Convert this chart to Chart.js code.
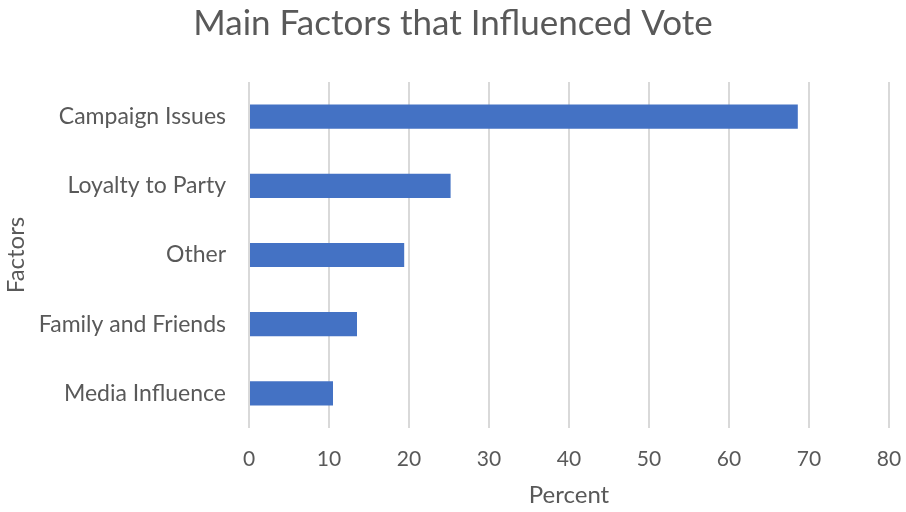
<!DOCTYPE html>
<html>
<head>
<meta charset="utf-8">
<script src="https://cdn.jsdelivr.net/npm/chart.js@4"></script>
<style>
  html, body { margin: 0; padding: 0; background: #fff; }
  #wrap { width: 906px; height: 512px; }
</style>
</head>
<body>
<div id="wrap"><canvas id="voteChart" width="906" height="512"></canvas></div>
<script>
// data
const factors = ['Campaign Issues', 'Loyalty to Party', 'Other', 'Family and Friends', 'Media Influence'];
const percents = [68.6, 25.2, 19.4, 13.5, 10.5];
const percentTicks = [0, 10, 20, 30, 40, 50, 60, 70, 80];

const textColor = '#595959';
const fontFamily = 'Lato, "Open Sans", sans-serif';

const data = {
    labels: factors,
    datasets: [{
        label: 'Percent',
        data: percents,
        backgroundColor: '#4472C4',
        borderWidth: 0,
        categoryPercentage: 1,
        barPercentage: 0.35
    }]
};

const config = {
    type: 'bar',
    data: data,
    options: {
        indexAxis: 'y',
        responsive: false,
        animation: false,
        layout: { padding: { left: 0, right: 0, top: 0, bottom: 2 } },
        plugins: {
            legend: { display: false },
            tooltip: { enabled: false },
            title: {
                display: true,
                text: 'Main Factors that Influenced Vote',
                color: textColor,
                font: { family: fontFamily, size: 35, weight: 'normal' },
                padding: { top: 3, bottom: 37 }
            }
        },
        scales: {
            x: {
                min: 0,
                max: 80,
                afterBuildTicks: scale => {
                    scale.ticks = percentTicks.map(v => ({ value: v }));
                },
                // keep the plot running out close to the right edge like the original
                afterFit: scale => { scale.paddingRight = 17; },
                grid: { color: '#d9d9d9', lineWidth: 2, drawTicks: false },
                border: { display: false },
                ticks: {
                    color: textColor,
                    padding: 19,
                    font: { family: fontFamily, size: 21 }
                },
                title: {
                    display: true,
                    text: 'Percent',
                    color: textColor,
                    font: { family: fontFamily, size: 24 },
                    padding: { top: -10, bottom: 0 }
                }
            },
            y: {
                afterFit: scale => { scale.width = 249; },
                grid: { display: false },
                border: { display: false },
                ticks: {
                    color: textColor,
                    padding: 15,
                    font: { family: fontFamily, size: 23 }
                },
                title: {
                    display: true,
                    text: 'Factors',
                    color: textColor,
                    font: { family: fontFamily, size: 24 },
                    padding: { top: 2, bottom: 0 }
                }
            }
        }
    }
};

new Chart(document.getElementById('voteChart'), config);
</script>
</body>
</html>
